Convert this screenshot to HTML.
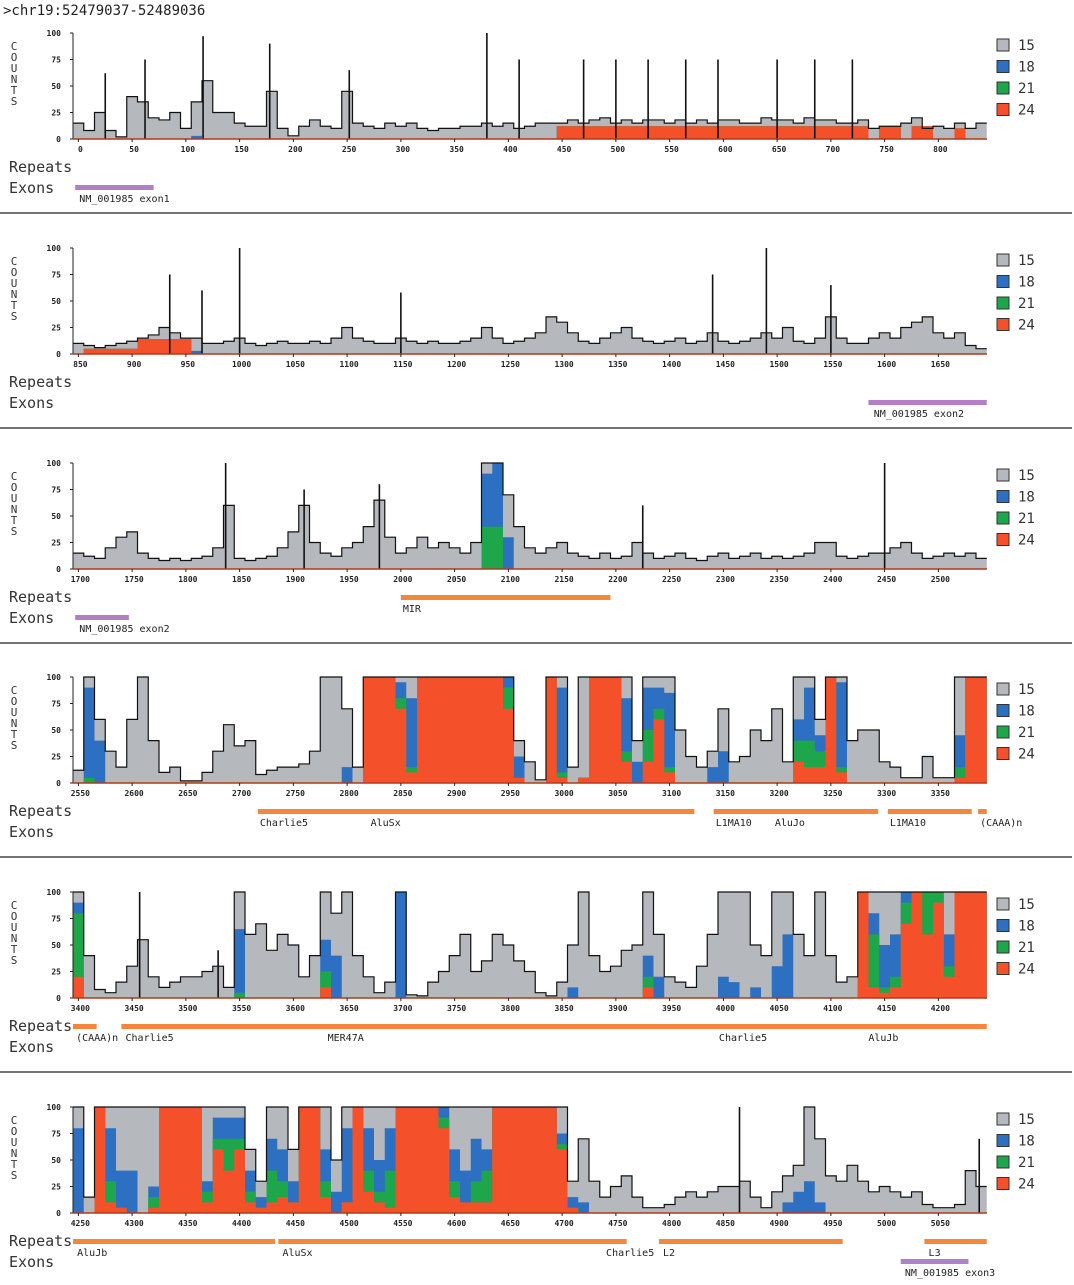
<!DOCTYPE html>
<html><head><meta charset="utf-8">
<style>
html,body{margin:0;padding:0;background:#fff;}
body{width:1074px;height:1280px;overflow:hidden;position:relative;}
svg text{font-family:"DejaVu Sans Mono","Liberation Mono",monospace;}
</style></head>
<body>
<svg id="chart" width="1074" height="1280" viewBox="0 0 1074 1280" xmlns="http://www.w3.org/2000/svg">
<text x="3" y="15" font-size="14" fill="#222">&gt;chr19:52479037-52489036</text>
</svg>
<script>
// panel start positions (data units)
const panelStarts = [-5, 845, 1695, 2545, 3395, 4245];
const tickStarts = [0, 850, 1700, 2550, 3400, 4250];
const yTickLabels = ["100","75","50","25","0"];
const yTickValues = [100,75,50,25,0];
const legendLabels = ["15","18","21","24"];

// total counts per 10-unit bin
const tot1 = [15,8,25,8,2,40,35,20,18,25,10,35,55,25,25,15,12,12,45,10,3,12,18,12,10,45,15,12,10,15,12,15,10,8,10,10,12,12,15,12,15,10,12,15,15,15,18,15,18,20,15,18,15,18,18,15,18,15,18,15,18,18,15,15,20,18,18,15,20,18,18,15,15,18,10,12,12,15,20,10,12,10,15,10,15];
const red1 = [0,0,0,0,0,0,0,0,0,0,0,0,0,0,0,0,0,0,0,0,0,0,0,0,0,0,0,0,0,0,0,0,0,0,0,0,0,0,0,0,0,0,0,0,0,12,12,12,12,12,12,12,12,12,12,12,12,12,12,12,12,12,12,12,12,12,12,12,12,12,12,12,12,12,0,12,12,0,12,12,0,0,10,0,0];
const tot2 = [10,8,6,8,10,12,15,18,25,20,15,15,10,10,12,15,10,8,10,12,10,10,12,10,15,25,15,12,10,10,15,12,10,12,10,10,12,15,25,15,10,12,15,20,35,30,20,12,10,15,20,25,15,12,10,12,15,10,12,20,12,10,12,15,20,15,25,12,10,15,35,15,10,10,15,20,15,25,30,35,20,15,20,8,5];
const red2 = [0,5,5,5,5,5,14,14,14,14,14,0,0,0,0,0,0,0,0,0,0,0,0,0,0,0,0,0,0,0,0,0,0,0,0,0,0,0,0,0,0,0,0,0,0,0,0,0,0,0,0,0,0,0,0,0,0,0,0,0,0,0,0,0,0,0,0,0,0,0,0,0,0,0,0,0,0,0,0,0,0,0,0,0,0];
const tot3 = [15,12,10,20,30,35,15,10,8,10,8,10,12,20,60,10,8,10,12,20,35,60,25,15,12,20,25,40,65,30,15,20,30,20,25,20,15,25,100,100,70,40,20,15,20,25,15,12,10,15,10,12,25,15,10,12,15,10,8,12,15,10,12,15,10,12,10,12,15,25,25,12,10,12,15,15,20,25,15,10,12,15,12,15,10];
const red3 = [0,0,0,0,0,0,0,0,0,0,0,0,0,0,0,0,0,0,0,0,0,0,0,0,0,0,0,0,0,0,0,0,0,0,0,0,0,0,0,0,0,0,0,0,0,0,0,0,0,0,0,0,0,0,0,0,0,0,0,0,0,0,0,0,0,0,0,0,0,0,0,0,0,0,0,0,0,0,0,0,0,0,0,0,0];
const tot4 = [12,100,60,30,15,60,100,40,10,15,2,2,10,30,55,35,40,8,12,15,15,18,30,100,100,70,15,100,100,100,100,100,100,100,100,100,100,100,100,100,100,40,20,3,100,100,15,100,100,100,100,100,40,100,100,100,50,25,15,30,70,20,25,50,40,70,20,100,100,60,100,100,40,50,50,20,15,5,5,25,5,5,100,100,100];
const red4 = [0,0,0,0,0,0,0,0,0,0,0,0,0,0,0,0,0,0,0,0,0,0,0,0,0,0,0,100,100,100,70,10,100,100,100,100,100,100,100,100,70,5,0,0,100,5,0,5,100,100,100,20,0,20,60,10,0,0,0,0,0,0,0,0,0,0,0,20,15,15,100,10,0,0,0,0,0,0,0,0,0,0,5,100,100];
const tot5 = [100,40,8,5,15,30,55,20,10,15,20,20,25,30,10,100,60,70,45,60,50,20,40,100,80,100,40,20,5,15,100,3,2,15,25,40,60,25,35,60,50,35,25,5,2,15,50,100,40,25,30,45,50,100,60,20,15,10,30,60,100,100,100,50,40,100,100,60,40,100,40,15,20,100,100,100,100,100,100,100,100,100,100,100,100];
const red5 = [20,0,0,0,0,0,0,0,0,0,0,0,0,0,0,0,0,0,0,0,0,0,0,10,0,0,0,0,0,0,0,0,0,0,0,0,0,0,0,0,0,0,0,0,0,0,0,0,0,0,0,0,0,10,0,0,0,0,0,0,0,0,0,0,0,0,0,0,0,0,0,0,0,100,10,5,10,70,100,60,90,20,100,100,100];
const tot6 = [100,15,100,100,100,100,100,100,100,100,100,100,100,100,100,100,60,30,100,100,60,100,100,100,50,100,100,100,100,100,100,100,100,100,100,100,100,100,100,100,100,100,100,100,100,100,30,70,30,15,25,35,15,5,5,8,15,20,15,20,25,25,30,15,5,20,35,45,100,70,35,30,45,30,20,25,20,15,20,8,5,5,8,40,25];
const red6 = [0,0,100,10,5,0,0,5,100,100,100,100,10,60,40,60,10,5,10,15,10,100,100,15,0,10,100,20,10,5,100,100,100,100,80,15,10,10,10,100,100,100,100,100,100,60,5,0,0,0,0,0,0,0,0,0,0,0,0,0,0,0,0,0,0,0,0,0,0,0,0,0,0,0,0,0,0,0,0,0,0,0,0,0,0];

// extra bands: [position, green amount, blue amount]
const ext1 = [[110,0,3]];
const ext2 = [[960,0,3]];
const ext3 = [[2080,40,50],[2090,40,60],[2100,0,30]];
const ext4 = [[2560,5,85],[2570,0,40],[2800,0,15],[2850,10,15],[2860,5,65],[2950,20,10],[2960,0,20],[3000,5,80],[3060,10,50],[3070,0,20],[3080,30,40],[3090,10,20],[3100,5,70],[3140,0,15],[3150,0,30],[3220,20,20],[3230,25,50],[3240,15,15],[3260,5,80],[3370,10,30]];
const ext5 = [[3400,60,10],[3550,5,60],[3630,15,30],[3640,0,40],[3700,0,100],[3860,0,10],[3930,10,20],[3940,0,20],[4000,0,20],[4010,0,15],[4030,0,10],[4050,0,30],[4060,0,60],[4140,50,20],[4150,5,40],[4160,10,40],[4170,20,10],[4190,40,0],[4200,10,0],[4210,10,30]];
const ext6 = [[4250,0,80],[4280,20,50],[4290,0,35],[4300,0,40],[4320,10,10],[4370,10,10],[4380,10,20],[4390,30,20],[4400,10,20],[4410,10,20],[4420,0,10],[4430,30,30],[4440,15,30],[4450,0,20],[4480,15,30],[4490,0,20],[4500,0,70],[4520,20,40],[4530,10,30],[4540,35,40],[4590,10,10],[4600,15,30],[4610,0,30],[4620,20,40],[4630,30,20],[4700,5,10],[4710,0,10],[4720,0,10],[4910,0,10],[4920,0,20],[4930,0,30],[4940,0,10]];

// spikes: [position, height]
const spikes1 = [[25,62],[62,75],[116,97],[178,90],[252,65],[380,100],[410,75],[470,75],[500,75],[530,75],[565,75],[595,75],[650,75],[685,75],[720,75]];
const spikes2 = [[935,75],[965,60],[1000,100],[1150,58],[1440,75],[1490,100],[1550,65]];
const spikes3 = [[1837,100],[1910,75],[1980,80],[2225,60],[2450,100]];
const spikes4 = [];
const spikes5 = [[3457,100],[3530,45]];
const spikes6 = [[4865,100],[5088,70]];

// repeats: [start, end] and labels [position, text]
const rep1 = [], repLab1 = [];
const rep2 = [], repLab2 = [];
const rep3 = [[2000,2195]], repLab3 = [[2000,"MIR"]];
const rep4 = [[2717,3123],[3141,3294],[3303,3381],[3387,3395]], repLab4 = [[2717,"Charlie5"],[2820,"AluSx"],[3141,"L1MA10"],[3196,"AluJo"],[3303,"L1MA10"],[3387,"(CAAA)n"]];
const rep5 = [[3395,3417],[3440,4245]], repLab5 = [[3396,"(CAAA)n"],[3442,"Charlie5"],[3630,"MER47A"],[3994,"Charlie5"],[4133,"AluJb"]];
const rep6 = [[4245,4433],[4436,4760],[4790,4961],[5037,5095]], repLab6 = [[4247,"AluJb"],[4438,"AluSx"],[4739,"Charlie5"],[4792,"L2"],[5039,"L3"]];
const exo1 = [[-3,70]], exoLab1 = [[-1,"NM_001985 exon1"]];
const exo2 = [[1585,1695]], exoLab2 = [[1588,"NM_001985 exon2"]];
const exo3 = [[1697,1747]], exoLab3 = [[1699,"NM_001985 exon2"]];
const exo4 = [], exoLab4 = [];
const exo5 = [], exoLab5 = [];
const exo6 = [[5015,5078]], exoLab6 = [[5017,"NM_001985 exon3"]];

const TOTS=[tot1,tot2,tot3,tot4,tot5,tot6], REDS=[red1,red2,red3,red4,red5,red6];
const EXTS=[ext1,ext2,ext3,ext4,ext5,ext6], SPIKES=[spikes1,spikes2,spikes3,spikes4,spikes5,spikes6];
const REPS=[rep1,rep2,rep3,rep4,rep5,rep6], REPLABS=[repLab1,repLab2,repLab3,repLab4,repLab5,repLab6];
const EXOS=[exo1,exo2,exo3,exo4,exo5,exo6], EXOLABS=[exoLab1,exoLab2,exoLab3,exoLab4,exoLab5,exoLab6];

const NS="http://www.w3.org/2000/svg";
const svg=document.getElementById('chart');
const COL={gray:"#b5b9bd",blue:"#2d6fc0",green:"#1ea64a",red:"#f4502a",rep:"#f5873c",exo:"#b27fc6"};
const X0=73, X1=987, PX=1.075, PH=106;
const offsets=[0,215,430,644,859,1074];
function mk(tag,attrs,parent){const e=document.createElementNS(NS,tag);for(const k in attrs)e.setAttribute(k,attrs[k]);(parent||svg).appendChild(e);return e;}

for(let p=0;p<6;p++){
  const top=33+offsets[p], bot=top+PH, S=panelStarts[p];
  const g=mk('g',{});
  
  
  const xs=u=>X0+(u-S)*PX;
  const ys=v=>bot-Math.max(0,Math.min(100,v))/100*PH;
  const tot=TOTS[p], red=REDS[p];
  const n=tot.length;
  const grn=red.slice(), blu=red.slice();
  for(let i=0;i<n;i++){grn[i]=red[i]||0;blu[i]=red[i]||0;}
  EXTS[p].forEach(e=>{const i=Math.floor((e[0]-S)/10);if(i>=0&&i<n){grn[i]=Math.min(100,(red[i]||0)+e[1]);blu[i]=Math.min(100,grn[i]+e[2]);}});
  function area(arr,color,name){
    let d="M"+xs(S)+","+bot;
    for(let i=0;i<n;i++){const a=xs(S+10*i),b=Math.min(X1,xs(S+10*i+10));const y=ys(arr[i]);d+=" L"+a+","+y+" L"+b+","+y;}
    d+=" L"+Math.min(X1,xs(S+10*n))+","+bot+" Z";
    const el=mk('path',{d:d,fill:color,stroke:"none"},g);
    
    
    return el;
  }
  area(tot,COL.gray,'series-15-area');
  area(blu,COL.blue,'series-18-area');
  area(grn,COL.green,'series-21-area');
  area(red,COL.red,'series-24-area');
  // outline
  let d="";
  for(let i=0;i<n;i++){const a=xs(S+10*i),b=Math.min(X1,xs(S+10*i+10));const y=ys(tot[i]);d+=(i?" L":"M")+a+","+y+" L"+b+","+y;}
  const ol=mk('path',{d:d,fill:"none",stroke:"#111","stroke-width":1.2},g);
  
  
  SPIKES[p].forEach(s=>{
    const ln=mk('line',{x1:xs(s[0]),x2:xs(s[0]),y1:ys(s[1]),y2:bot,stroke:"#111","stroke-width":1.6},g);
    
    
  });
  // axes
  const ya=mk('line',{x1:X0,x2:X0,y1:top,y2:bot,stroke:"#222","stroke-width":1},g);
  
  
  const xa=mk('line',{x1:X0,x2:X1,y1:bot,y2:bot,stroke:"#b23a1c","stroke-width":1.5},g);
  
  
  yTickValues.forEach((v,i)=>{
    const t=mk('text',{x:X0-12,y:ys(v)+3,"font-size":8,"text-anchor":"end",fill:"#222","font-weight":"bold"},g);
    t.textContent=yTickLabels[i];
    
    
    mk('line',{x1:X0-3,x2:X0,y1:ys(v),y2:ys(v),stroke:"#222"},g);
  });
  for(let k=0;k<17;k++){
    const u=tickStarts[p]+50*k, x=xs(u);
    if(x>X1)break;
    mk('line',{x1:x,x2:x,y1:bot,y2:bot+3,stroke:"#222"},g);
    const t=mk('text',{x:x+2,y:bot+13,"font-size":8,"text-anchor":"middle",fill:"#222","font-weight":"bold"},g);
    t.textContent=String(u);
    
    
  }
  // counts label
  const letters="COUNTS";
  for(let i=0;i<6;i++){
    const t=mk('text',{x:14,y:top+17+i*11,"font-size":11,"text-anchor":"middle",fill:"#333"},g);
    t.textContent=letters[i];
    
    
  }
  // legend
  const lc=[COL.gray,COL.blue,COL.green,COL.red];
  for(let i=0;i<4;i++){
    const ly=top+6+i*21.5;
    const r=mk('rect',{x:997,y:ly,width:12,height:12,fill:lc[i],stroke:"#333","stroke-width":1},g);
    
    
    const t=mk('text',{x:1018,y:ly+11,"font-size":14,fill:"#333","font-family":"Liberation Sans, sans-serif"},g);
    t.textContent=legendLabels[i];
    
    
  }
  // track labels
  const rl=mk('text',{x:9,y:bot+33,"font-size":15,fill:"#333","font-family":"DejaVu Sans, sans-serif"},g);
  rl.textContent="Repeats";
  
  
  const el=mk('text',{x:9,y:bot+54,"font-size":15,fill:"#333","font-family":"DejaVu Sans, sans-serif"},g);
  el.textContent="Exons";
  
  
  REPS[p].forEach(r=>{
    const b=mk('rect',{x:xs(r[0]),y:bot+26,width:Math.min(X1,xs(r[1]))-xs(r[0]),height:5,fill:COL.rep},g);
    
    
  });
  REPLABS[p].forEach(r=>{
    const t=mk('text',{x:xs(r[0])+2,y:bot+43,"font-size":10,fill:"#222"},g);
    t.textContent=r[1];
    
    
  });
  EXOS[p].forEach(r=>{
    const b=mk('rect',{x:xs(r[0]),y:bot+46,width:Math.min(X1,xs(r[1]))-xs(r[0]),height:5,fill:COL.exo},g);
    
    
  });
  EXOLABS[p].forEach(r=>{
    const t=mk('text',{x:xs(r[0])+2,y:bot+63,"font-size":10,fill:"#222"},g);
    t.textContent=r[1];
    
    
  });
  if(p<5){
    const sep=mk('line',{x1:0,x2:1072,y1:213+offsets[p],y2:213+offsets[p],stroke:"#222","stroke-width":1.2},g);
    
    
  }
}
</script>
</body></html>
